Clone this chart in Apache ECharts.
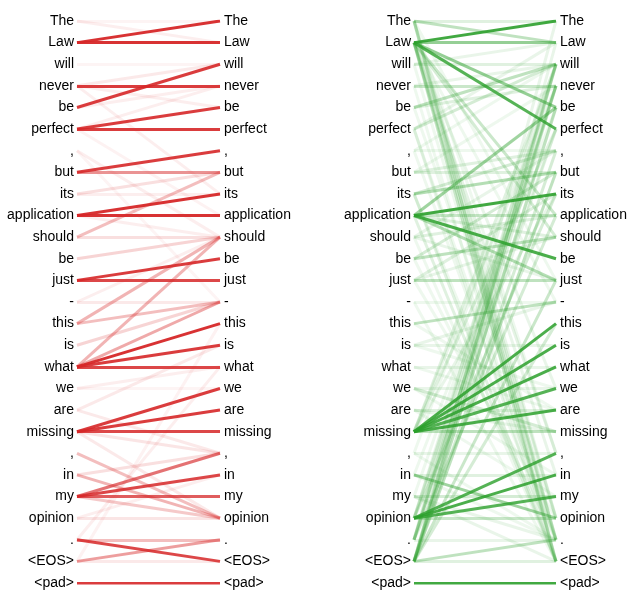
<!DOCTYPE html>
<html>
<head>
<meta charset="utf-8">
<script src="https://cdn.jsdelivr.net/npm/echarts@6/dist/echarts.min.js"></script>
<style>
  html, body { margin: 0; padding: 0; background: #fff; }
  #chart { width: 637px; height: 608px; }
</style>
</head>
<body>
<div id="chart"></div>
<script>
// tokens, same on both sides
var tokens = ["The", "Law", "will", "never", "be", "perfect", ",", "but", "its",
  "application", "should", "be", "just", "-", "this", "is", "what", "we", "are",
  "missing", ",", "in", "my", "opinion", ".", "<EOS>", "<pad>"];

// [left token, right token, weight]  - red head
var redLinks = [
  [0, 1, 0.08], [0, 0, 0.05],
  [1, 0, 0.95], [1, 1, 0.95],
  [2, 2, 0.05],
  [3, 3, 0.9], [3, 2, 0.1], [3, 4, 0.08], [3, 8, 0.08],
  [4, 2, 0.9], [4, 3, 0.08],
  [5, 4, 0.9], [5, 5, 0.9], [5, 3, 0.08], [5, 9, 0.06],
  [6, 10, 0.08], [6, 13, 0.05],
  [7, 6, 0.9], [7, 7, 0.5],
  [8, 7, 0.15], [8, 8, 0.08],
  [9, 8, 0.95], [9, 9, 0.95], [9, 10, 0.08],
  [10, 7, 0.3], [10, 10, 0.15],
  [11, 10, 0.2],
  [12, 11, 0.9], [12, 12, 0.85],
  [13, 13, 0.1], [13, 10, 0.08],
  [14, 10, 0.35], [14, 13, 0.3],
  [15, 13, 0.2],
  [16, 10, 0.35], [16, 13, 0.4], [16, 14, 0.95], [16, 15, 0.9], [16, 16, 0.85],
  [17, 17, 0.05], [17, 16, 0.08],
  [18, 15, 0.1], [18, 20, 0.1],
  [19, 17, 0.9], [19, 18, 0.9], [19, 19, 0.85], [19, 20, 0.12], [19, 23, 0.1],
  [20, 23, 0.3],
  [21, 23, 0.35], [21, 20, 0.15],
  [22, 20, 0.65], [22, 21, 0.85], [22, 22, 0.75], [22, 23, 0.25],
  [23, 23, 0.12], [23, 21, 0.08],
  [24, 24, 0.3], [24, 25, 0.85], [24, 16, 0.08],
  [25, 24, 0.45], [25, 25, 0.1], [25, 14, 0.06],
  [26, 26, 0.9]
];

// green head, much more spread out
var greenLinks = [
  [0, 1, 0.3], [0, 0, 0.15], [0, 25, 0.2], [0, 24, 0.15], [0, 23, 0.1], [0, 20, 0.08], [0, 12, 0.08],
  [1, 0, 0.9], [1, 1, 0.5], [1, 4, 0.5], [1, 5, 0.8], [1, 9, 0.25], [1, 10, 0.2],
  [1, 24, 0.2], [1, 25, 0.25], [1, 23, 0.15], [1, 20, 0.12], [1, 21, 0.1], [1, 17, 0.1], [1, 13, 0.08],
  [2, 2, 0.15], [2, 1, 0.1], [2, 24, 0.08],
  [3, 3, 0.25], [3, 2, 0.1], [3, 25, 0.08],
  [4, 2, 0.3], [4, 3, 0.15], [4, 23, 0.08],
  [5, 2, 0.2], [5, 1, 0.1], [5, 24, 0.08], [5, 25, 0.1],
  [6, 6, 0.08], [6, 2, 0.08], [6, 24, 0.08],
  [7, 7, 0.15], [7, 6, 0.15], [7, 3, 0.08],
  [8, 7, 0.35], [8, 6, 0.2], [8, 25, 0.15], [8, 24, 0.08],
  [9, 8, 0.9], [9, 11, 0.85], [9, 12, 0.35], [9, 4, 0.45], [9, 9, 0.25], [9, 10, 0.15], [9, 25, 0.15],
  [10, 9, 0.15], [10, 6, 0.1], [10, 12, 0.1], [10, 25, 0.08],
  [11, 10, 0.3], [11, 7, 0.2], [11, 24, 0.08],
  [12, 12, 0.3], [12, 8, 0.15], [12, 10, 0.1], [12, 23, 0.08],
  [13, 13, 0.08], [13, 25, 0.08],
  [14, 13, 0.3], [14, 18, 0.08],
  [15, 15, 0.1], [15, 13, 0.1], [15, 17, 0.08],
  [16, 16, 0.1], [16, 18, 0.08],
  [17, 17, 0.1], [17, 19, 0.2], [17, 21, 0.08],
  [18, 18, 0.15], [18, 19, 0.1], [18, 22, 0.08],
  [19, 14, 0.85], [19, 15, 0.85], [19, 16, 0.85], [19, 17, 0.8], [19, 18, 0.85], [19, 19, 0.3],
  [19, 2, 0.15], [19, 5, 0.15], [19, 3, 0.1], [19, 8, 0.1],
  [20, 20, 0.1], [20, 2, 0.08], [20, 24, 0.08],
  [21, 23, 0.45], [21, 21, 0.15], [21, 4, 0.08], [21, 24, 0.08],
  [22, 22, 0.2], [22, 24, 0.1], [22, 3, 0.08], [22, 25, 0.1],
  [23, 20, 0.8], [23, 21, 0.85], [23, 22, 0.8], [23, 23, 0.25], [23, 8, 0.2], [23, 3, 0.15],
  [23, 2, 0.12], [23, 5, 0.1],
  [24, 3, 0.3], [24, 9, 0.2], [24, 24, 0.1], [24, 0, 0.1], [24, 2, 0.15], [24, 5, 0.12],
  [25, 2, 0.3], [25, 4, 0.3], [25, 7, 0.3], [25, 12, 0.25], [25, 14, 0.2], [25, 24, 0.3],
  [25, 25, 0.15], [25, 6, 0.2], [25, 3, 0.15], [25, 1, 0.1],
  [26, 26, 0.9]
];

var chart = echarts.init(document.getElementById("chart"));

function toLines(links) {
  // weakest first so the strong ones sit on top
  return links.slice().sort(function (a, b) { return a[2] - b[2]; }).map(function (l) {
    return { coords: [[0, l[0]], [1, l[1]]], lineStyle: { opacity: l[2] } };
  });
}

function yAx(grid, side, margin) {
  return {
    type: "category", gridIndex: grid, position: side, data: tokens,
    inverse: true, boundaryGap: false,
    axisLine: { show: false }, axisTick: { show: false }, splitLine: { show: false },
    axisLabel: {
      interval: 0, margin: margin, color: "#000",
      fontFamily: "Liberation Sans", fontSize: 14
    }
  };
}

function xAx(grid) {
  return { type: "value", gridIndex: grid, min: 0, max: 1, show: false };
}

var option = {
  backgroundColor: "#fff",
  animation: false,
  grid: [
    { left: 77, right: 417, top: 21, bottom: 25 },
    { left: 414, right: 81, top: 21, bottom: 25 }
  ],
  xAxis: [xAx(0), xAx(1)],
  yAxis: [yAx(0, "left", 3), yAx(0, "right", 4), yAx(1, "left", 3), yAx(1, "right", 4)],
  series: [
    {
      type: "lines", coordinateSystem: "cartesian2d", xAxisIndex: 0, yAxisIndex: 0,
      silent: true,
      lineStyle: { color: "#d62728", width: 3, curveness: 0 },
      data: toLines(redLinks)
    },
    {
      type: "lines", coordinateSystem: "cartesian2d", xAxisIndex: 1, yAxisIndex: 2,
      silent: true,
      lineStyle: { color: "#2ca02c", width: 3, curveness: 0 },
      data: toLines(greenLinks)
    }
  ]
};
chart.setOption(option);
</script>
</body>
</html>
